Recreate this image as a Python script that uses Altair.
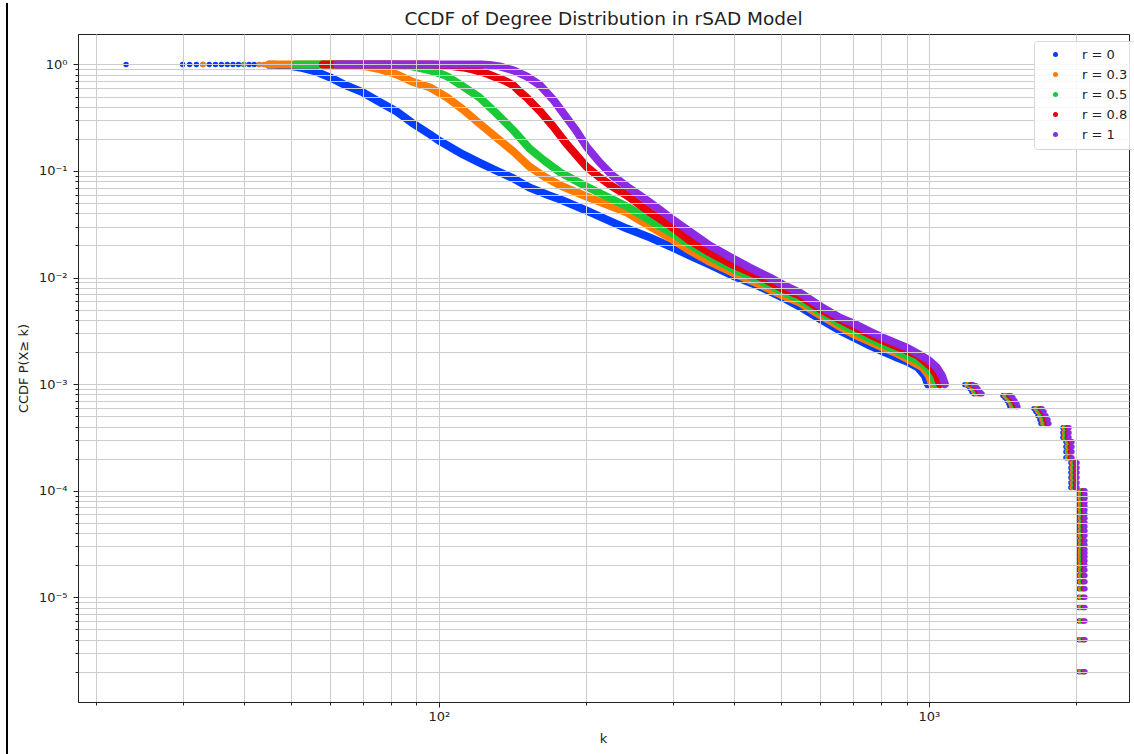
import altair as alt
import pandas as pd

# ---------------- data ----------------
series = ["r = 0", "r = 0.3", "r = 0.5", "r = 0.8", "r = 1"]
colors = ["#023eff", "#ff7c00", "#1ac938", "#e8000b", "#8b2be2"]

# main body (flat part at CCDF ~ 1 + decline down to 1e-3)
k_r0 = [23, 30, 31, 32, 33, 34, 35, 36, 37, 38, 39, 40, 41, 42, 43, 44, 45, 46, 47, 48,
        49, 52, 56, 60, 64, 70, 76, 82, 88, 96, 100, 112, 121, 131, 142, 153, 168, 177,
        200, 220, 242, 270, 300, 325, 357, 398, 452, 503, 545, 602, 658, 703, 758, 806,
        852, 902, 950, 981, 995]
p_r0 = [1.0, 1.0, 1.0, 1.0, 1.0, 1.0, 1.0, 1.0, 1.0, 0.999, 0.999, 0.999, 0.998, 0.998,
        0.997, 0.996, 0.995, 0.993, 0.990, 0.986,
        0.979, 0.937, 0.860, 0.755, 0.649, 0.546, 0.440, 0.362, 0.285, 0.220, 0.193, 0.143,
        0.120, 0.101, 0.0851, 0.0700, 0.0589, 0.0540,
        0.0426, 0.0350, 0.0288, 0.0237, 0.0191, 0.0161, 0.0132, 0.0104, 0.00823, 0.00649,
        0.00534, 0.00403, 0.00318, 0.00273, 0.00230, 0.00202,
        0.00181, 0.00163, 0.00143, 0.00120, 0.00100]

k_r03 = [33, 43, 44, 45, 46, 47, 48, 49, 50, 51, 52, 53, 54, 55, 56, 57, 58, 59, 60, 61,
         62, 63, 64, 65, 66,
         67, 71, 76, 82, 88, 96, 104, 112, 121, 131, 142, 153, 164, 177,
         200, 220, 242, 270, 300, 325, 357, 398, 452, 503, 545, 602, 658, 703, 758, 806,
         852, 902, 972, 1000, 1014]
p_r03 = [1.0, 1.0, 1.0, 1.0, 1.0, 1.0, 1.0, 1.0, 1.0, 1.0, 1.0, 1.0, 1.0, 1.0, 1.0, 1.0,
         1.0, 0.999, 0.999, 0.998, 0.997, 0.995, 0.993, 0.990, 0.985,
         0.979, 0.958, 0.898, 0.806, 0.692, 0.608, 0.490, 0.378, 0.279, 0.206, 0.152,
         0.110, 0.0888, 0.0731,
         0.0576, 0.0485, 0.0408, 0.0301, 0.0227, 0.0179, 0.0141, 0.0111, 0.00859, 0.00678,
         0.00582, 0.00440, 0.00347, 0.00292, 0.00251, 0.00220,
         0.00198, 0.00173, 0.00143, 0.00120, 0.00100]

k_r05 = [40, 51, 52, 53, 54, 55, 56, 57, 58, 59, 60, 61, 62, 63, 64, 65, 66, 67, 68, 69,
         70, 71, 72, 73, 74, 75, 76, 77, 78, 79, 80, 81, 82, 83, 84, 85,
         88, 92, 96, 100, 104, 112, 121, 131, 142, 153, 164, 177,
         200, 220, 242, 270, 300, 325, 357, 398, 452, 503, 545, 602, 658, 703, 758, 806,
         852, 902, 950, 991, 1019, 1033]
p_r05 = [1.0, 1.0, 1.0, 1.0, 1.0, 1.0, 1.0, 1.0, 1.0, 1.0, 1.0, 1.0, 1.0, 1.0, 1.0, 1.0,
         1.0, 1.0, 1.0, 1.0, 1.0, 1.0, 1.0, 1.0, 1.0, 1.0, 0.999, 0.998, 0.997, 0.996,
         0.995, 0.993, 0.991, 0.988, 0.985, 0.982,
         0.960, 0.920, 0.878, 0.830, 0.772, 0.621, 0.490, 0.347, 0.240, 0.163, 0.1255,
         0.0970,
         0.0715, 0.0576, 0.0464, 0.0343, 0.0259, 0.0204, 0.0157, 0.0121, 0.00937, 0.00739,
         0.00621, 0.00469, 0.00370, 0.00318, 0.00267, 0.00235,
         0.00211, 0.00185, 0.00166, 0.00143, 0.00120, 0.00100]

k_r08 = [58, 71, 72, 73, 74, 75, 76, 77, 78, 79, 80, 81, 82, 83, 84, 85, 86, 87, 88, 89,
         90, 91, 92, 93, 94, 95, 96, 97, 98, 99, 100,
         104, 112, 117, 125, 131, 136, 142, 146, 151, 161, 171, 182, 191,
         200, 213, 226, 242, 270, 300, 325, 357, 398, 452, 503, 545, 602, 658, 703, 758,
         806, 852, 902, 950, 1014, 1038, 1053]
p_r08 = [1.0, 1.0, 1.0, 1.0, 1.0, 1.0, 1.0, 1.0, 1.0, 1.0, 1.0, 1.0, 1.0, 1.0, 1.0, 1.0,
         1.0, 1.0, 1.0, 1.0, 1.0, 1.0, 1.0, 1.0, 1.0, 0.999, 0.998, 0.997, 0.995, 0.993,
         0.990,
         0.979, 0.937, 0.898, 0.823, 0.755, 0.708, 0.635, 0.558, 0.490, 0.362, 0.262,
         0.181, 0.140,
         0.110, 0.0869, 0.0715, 0.0589, 0.0408, 0.0295, 0.0223, 0.0172, 0.0132, 0.0102,
         0.00788, 0.00678, 0.00501, 0.00403, 0.00347, 0.00292,
         0.00256, 0.00230, 0.00206, 0.00185, 0.00143, 0.00120, 0.00100]

k_r1 = [62, 80, 81, 82, 83, 84, 85, 86, 87, 88, 89, 90, 91, 92, 93, 94, 95, 96, 97, 98,
        99, 100, 101, 102, 103, 104, 105, 106, 107, 108, 109, 110, 111, 112, 113, 114,
        115, 116, 117, 118, 119, 120, 121, 122, 123, 124,
        127, 133, 142, 151, 161, 171, 179, 190,
        200, 213, 226, 242, 261, 282, 300, 325, 357, 398, 431, 474, 503, 545, 602, 658,
        703, 758, 806, 852, 902, 950, 995, 1038, 1063, 1078]
p_r1 = [1.0, 1.0, 1.0, 1.0, 1.0, 1.0, 1.0, 1.0, 1.0, 1.0, 1.0, 1.0, 1.0, 1.0, 1.0, 1.0,
        1.0, 1.0, 1.0, 1.0, 1.0, 1.0, 1.0, 1.0, 1.0, 1.0, 1.0, 1.0, 1.0, 1.0, 1.0, 1.0,
        1.0, 1.0, 1.0, 1.0, 1.0, 1.0, 1.0, 1.0, 0.999, 0.999, 0.998, 0.997, 0.996, 0.995,
        0.990, 0.958, 0.878, 0.772, 0.635, 0.469, 0.354, 0.245,
        0.170, 0.120, 0.0908, 0.0715, 0.0564, 0.0435, 0.0350, 0.0270, 0.0200, 0.0151,
        0.0124, 0.0100, 0.00859, 0.00723, 0.00534, 0.00421,
        0.00370, 0.00311, 0.00273, 0.00245, 0.00220, 0.00193, 0.00170, 0.00143, 0.00120,
        0.00100]

main_k = [k_r0, k_r03, k_r05, k_r08, k_r1]
main_p = [p_r0, p_r03, p_r05, p_r08, p_r1]

# tail: small clusters of hub nodes (same CCDF levels for every r, k slightly shifted)
tail_a_p = [9.89e-4, 9.68e-4, 9.07e-4, 8.50e-4, 8.14e-4]
tail_b_p = [7.80e-4, 7.47e-4, 7.00e-4, 6.56e-4, 6.15e-4]
tail_c_p = [5.89e-4, 5.52e-4, 5.06e-4, 4.64e-4, 4.26e-4]
tail_d1_p = [3.90e-4, 3.50e-4, 3.15e-4]
tail_d2_p = [2.88e-4, 2.59e-4, 2.32e-4, 2.04e-4]
tail_d3_p = [1.83e-4, 1.64e-4, 1.48e-4, 1.33e-4, 1.19e-4, 1.07e-4]
tail_e_p = [1.0e-4, 9.2e-5, 8.5e-5, 7.8e-5, 7.2e-5, 6.6e-5, 6.0e-5, 5.5e-5, 5.0e-5,
            4.6e-5, 4.2e-5, 3.8e-5, 3.4e-5, 3.1e-5, 2.8e-5, 2.6e-5, 2.4e-5, 2.2e-5,
            2.0e-5, 1.8e-5, 1.6e-5, 1.4e-5, 1.2e-5, 1.0e-5, 8e-6, 6e-6, 4e-6, 2e-6]

tail_a_k = [[1184, 1201, 1213, 1224, 1236], [1196, 1213, 1224, 1236, 1247],
            [1207, 1224, 1236, 1247, 1259], [1218, 1236, 1247, 1259, 1271],
            [1230, 1247, 1259, 1271, 1283]]
tail_b_k = [[1416, 1429, 1443, 1456, 1463], [1429, 1443, 1456, 1470, 1477],
            [1443, 1456, 1470, 1484, 1491], [1456, 1470, 1484, 1498, 1505],
            [1470, 1484, 1498, 1512, 1519]]
tail_c_k = [[1638, 1653, 1669, 1685, 1693], [1653, 1669, 1685, 1701, 1709],
            [1669, 1685, 1701, 1717, 1725], [1685, 1701, 1717, 1733, 1741],
            [1701, 1717, 1733, 1749, 1757]]
tail_d1_k = [1877, 1890, 1904, 1917, 1931]
tail_d2_k = [1904, 1917, 1931, 1944, 1958]
tail_d3_k = [1949, 1962, 1977, 1990, 2005]
tail_e_k = [2024, 2038, 2052, 2067, 2081]

# axis ticks
x_ticks = [20, 30, 40, 50, 60, 70, 80, 90, 100, 200, 300, 400, 500, 600, 700, 800, 900,
           1000, 2000]
y_ticks = [m * 10.0 ** e for e in range(-6, 0) for m in range(1, 10)
           if m * 10.0 ** e > 1.05e-6] + [1.0]

# ---------------- assemble table ----------------
rows = []
for i, s in enumerate(series):
    assert len(main_k[i]) == len(main_p[i]), s
    for k, p in zip(main_k[i], main_p[i]):
        rows.append({"series": s, "k": k, "ccdf": p, "part": "main"})
    for ks, ps in ((tail_a_k[i], tail_a_p), (tail_b_k[i], tail_b_p), (tail_c_k[i], tail_c_p)):
        for k, p in zip(ks, ps):
            rows.append({"series": s, "k": k, "ccdf": p, "part": "tail"})
    for kk, ps in ((tail_d1_k[i], tail_d1_p), (tail_d2_k[i], tail_d2_p),
                   (tail_d3_k[i], tail_d3_p), (tail_e_k[i], tail_e_p)):
        for p in ps:
            rows.append({"series": s, "k": kk, "ccdf": p, "part": "tail"})
df = pd.DataFrame(rows)

# ---------------- axes / scales ----------------
FONT = "DejaVu Sans"
INK = "#222222"
major = "abs(log(datum.value)/LN10 - round(log(datum.value)/LN10)) < 0.001"
expo = "round(log(datum.value)/LN10)"
label_expr = (f"({major}) ? '10' + ({expo} < 0 ? '\u207b' : '') + "
              f"substring('\u2070\u00b9\u00b2\u00b3\u2074\u2075\u2076\u2077\u2078\u2079', "
              f"abs({expo}), abs({expo}) + 1) : ''")
tick_size = {"condition": {"test": major, "value": 5}, "value": 3}

common_axis = dict(grid=True, gridColor="#cdcdcd", gridWidth=1, domainColor=INK,
                   domainWidth=1, tickColor=INK, tickWidth=1, tickSize=tick_size,
                   labelExpr=label_expr, labelColor=INK, labelFont=FONT,
                   labelFontSize=13, labelOverlap=False, labelFlush=False,
                   titleFont=FONT, titleFontSize=13, titleFontWeight="normal",
                   titleColor=INK, titleAlign="center", titleBaseline="middle", zindex=1)

x_axis = alt.Axis(values=x_ticks, labelPadding=3, titleX=525, titleY=36, **common_axis)
y_axis = alt.Axis(values=y_ticks, labelPadding=6, titleX=-55, titleY=334, titleAngle=270,
                  **common_axis)

x_scale = alt.Scale(type="log", domain=[18.35, 2560], nice=False)
y_scale = alt.Scale(type="log", domain=[1.04e-6, 1.93], nice=False)

x_enc = alt.X("k:Q", title="k", scale=x_scale, axis=x_axis)
y_enc = alt.Y("ccdf:Q", title="CCDF P(X\u2265 k)", scale=y_scale, axis=y_axis)

legend = alt.Legend(title=None, orient="none", legendX=956, legendY=7,
                    fillColor="rgba(255,255,255,0.85)", strokeColor="#d8d8d8",
                    cornerRadius=3, padding=7, symbolType="circle", symbolSize=25,
                    symbolOffset=8, labelOffset=20, labelFont=FONT, labelFontSize=13,
                    labelColor=INK, rowPadding=6, symbolStrokeWidth=0, zindex=2)
color_enc = alt.Color("series:N", scale=alt.Scale(domain=series, range=colors),
                      legend=legend)

layers = []
for s, c in zip(series, colors):
    line = (alt.Chart()
            .mark_line(strokeWidth=8, strokeCap="round", strokeJoin="round", opacity=1)
            .encode(x=x_enc, y=y_enc, color=alt.value(c))
            .transform_filter(f"datum.series == '{s}' && datum.part == 'main' && datum.k >= 45"))
    pts = (alt.Chart()
           .mark_circle(size=30, opacity=1)
           .encode(x=x_enc, y=y_enc, color=color_enc)
           .transform_filter(f"datum.series == '{s}'"))
    layers += [line, pts]

edge = (alt.Chart(pd.DataFrame({"v": [0]}))
        .mark_rule(color="black", strokeWidth=2)
        .encode(x=alt.value(-71), y=alt.value(-31), y2=alt.value(720)))

chart = (alt.layer(*layers, edge, data=df)
         .properties(width=1051, height=668,
                     padding={"left": 78, "top": 34, "right": 5, "bottom": 52},
                     autosize=alt.AutoSizeParams(type="none"),
                     background="white",
                     title=alt.TitleParams("CCDF of Degree Distribution in rSAD Model",
                                           font=FONT, fontSize=18.5, fontWeight="normal",
                                           color=INK, anchor="middle", frame="group",
                                           offset=-45, baseline="bottom"))
         .configure_view(stroke=INK, strokeWidth=1))

chart.save("out.html", embed_options={"renderer": "svg", "actions": False})
